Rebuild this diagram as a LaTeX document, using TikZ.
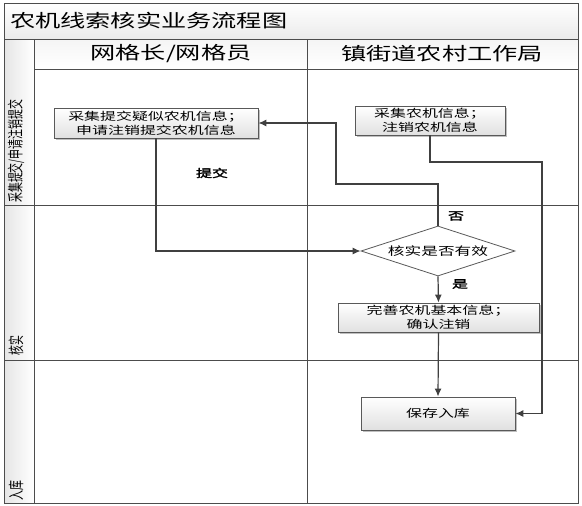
\documentclass[tikz,border=0pt]{standalone}
\usepackage{fontspec}
\setmainfont{Noto Sans CJK SC}
\newfontfamily\titlefont[FakeStretch=1.4]{Noto Sans CJK SC}
\newfontfamily\boxfont[FakeStretch=1.45]{Noto Sans CJK SC}
\newfontfamily\labelfont[FakeStretch=1.45,FakeBold=2]{Noto Sans CJK SC}
\newfontfamily\phasefont[FakeStretch=0.62]{Noto Sans CJK SC}
\usetikzlibrary{positioning,shapes.geometric,arrows.meta,shadows}

\tikzset{
  frame/.style={draw=black!70, line width=1pt},
  lanehead/.style={inner sep=0pt, font=\titlefont\fontsize{18}{18}\selectfont},
  procbox/.style={draw=black!65, line width=0.8pt, top color=white, bottom color=black!12,
    align=center, inner sep=0pt, font=\boxfont\fontsize{11}{14}\selectfont,
    drop shadow={shadow xshift=1.5pt, shadow yshift=-1.5pt, opacity=0.25, fill=black}},
  decision/.style={diamond, aspect=3, draw=black!65, line width=0.8pt, fill=white,
    inner sep=0pt, font=\boxfont\fontsize{11.5}{14}\selectfont},
  flow/.style={draw=black!75, line width=1.2pt, -{Latex[length=8pt,width=7pt]}},
  flowlabel/.style={inner sep=0pt, font=\labelfont\fontsize{11}{13}\selectfont},
  phase/.style={rotate=90, anchor=west, inner sep=0pt, font=\phasefont\fontsize{16}{16}\selectfont},
}

\begin{document}
\begin{tikzpicture}[x=1pt,y=-1pt]
  \useasboundingbox (0,0) rectangle (582,506);

  % swimlane frame
  \fill[top color=white, bottom color=black!8] (4,3) rectangle (578,39);
  \fill[top color=black!4, bottom color=white] (34,39) rectangle (578,69);
  \fill[left color=black!10, right color=white] (4,39) rectangle (34,503);
  \draw[frame] (4,3) rectangle (578,503);
  \draw[frame] (4,39) -- (578,39);
  \draw[frame] (34,69) -- (578,69);
  \draw[frame] (34,39) -- (34,503);
  \draw[frame] (307,39) -- (307,503);
  \draw[frame] (4,205) -- (578,205);
  \draw[frame] (4,360) -- (578,360);

  \node[lanehead, anchor=west] (title) at (10,21) {农机线索核实业务流程图};
  \node[lanehead] (laneA) at (171,54) {网格长/网格员};
  \node[lanehead] (laneB) at (442,54) {镇街道农村工作局};

  \node[phase] (collectphase) at (16,203) {采集提交/申请注销提交};
  \node[phase] (checkphase) at (16,356) {核实};
  \node[phase] (storephase) at (16,501) {入库};

  % steps
  \node[procbox, minimum width=204pt, minimum height=30pt] (submit) at (156,123)
    {采集提交疑似农机信息；\\申请注销提交农机信息};
  \node[procbox, minimum width=150pt, minimum height=29pt] (gather) at (430,120.5)
    {采集农机信息；\\注销农机信息};
  \node[decision, minimum width=154pt, minimum height=50pt] (check) at (438,251) {核实是否有效};
  \node[procbox, minimum width=201pt, minimum height=29pt] (refine) at (438.5,317.5)
    {完善农机基本信息；\\确认注销};
  \node[procbox, minimum width=154pt, minimum height=33pt] (store) at (438,413.5) {保存入库};

  % connectors
  \draw[flow] (submit.south) |- (check.west);
  \draw[flow] (check.north) |- (336,184) |- (submit.east);
  \draw[flow] (check.south) -- (refine.north);
  \draw[flow] (refine.south) -- (store.north);
  \draw[flow] (gather.south) |- (542,162) |- (store.east);

  \node[flowlabel] (submitlabel) at (212,173) {提交};
  \node[flowlabel] (nolabel) at (456,216) {否};
  \node[flowlabel] (yeslabel) at (460,284) {是};
\end{tikzpicture}
\end{document}
